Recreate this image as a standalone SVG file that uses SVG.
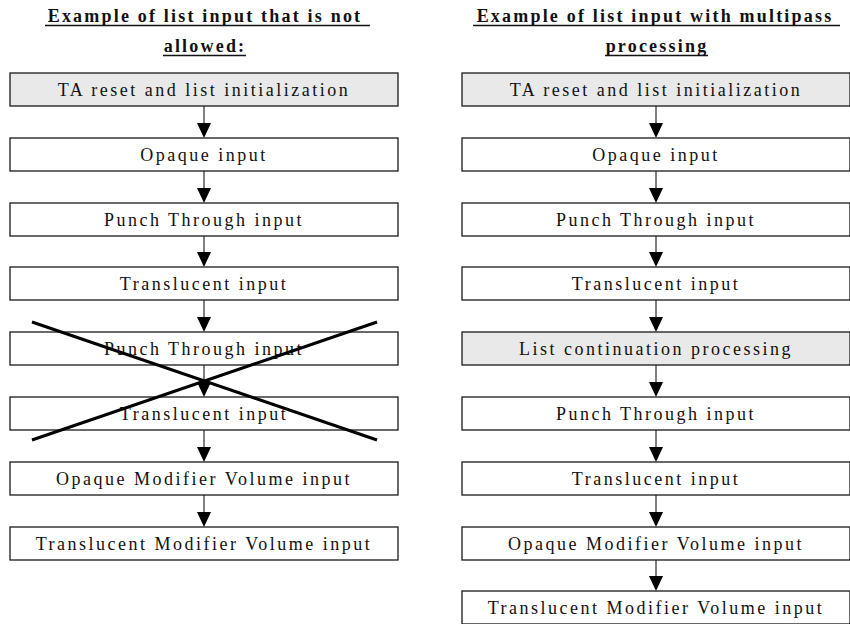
<svg xmlns="http://www.w3.org/2000/svg" width="850" height="624" viewBox="0 0 850 624">
<style>
.box{fill:#fff;stroke:#1a1a1a;stroke-width:1.3}
.gray{fill:#e9e9e9}
.lbl{font-family:"Liberation Serif","Times New Roman",serif;font-size:18px;letter-spacing:2.5px;text-anchor:middle;fill:#111}
.title{font-family:"Liberation Serif","Times New Roman",serif;font-size:18px;font-weight:bold;letter-spacing:2.2px;text-anchor:middle;fill:#111}
.ul{stroke:#111;stroke-width:1.3}
.conn{stroke:#000;stroke-width:1;fill:none}
.head{fill:#000}
.cross{stroke:#000;stroke-width:3;stroke-linecap:butt}
</style>
<g id="titles">
<text class="title" x="205" y="22">Example of list input that is not</text>
<line class="ul" x1="45" y1="25.5" x2="370" y2="25.5"/>
<text class="title" x="205" y="52">allowed:</text>
<line class="ul" x1="163" y1="55.5" x2="246" y2="55.5"/>
<text class="title" x="655" y="22">Example of list input with multipass</text>
<line class="ul" x1="473" y1="25.5" x2="840" y2="25.5"/>
<text class="title" x="657" y="52">processing</text>
<line class="ul" x1="605" y1="55.5" x2="708" y2="55.5"/>
</g>
<g id="connectors">
<g transform="translate(204,0)">
<path class="conn" d="M0,106 V123"/><path class="head" d="M-7,123 H7 L0,138 Z"/>
<path class="conn" d="M0,171 V188"/><path class="head" d="M-7,188 H7 L0,203 Z"/>
<path class="conn" d="M0,236 V252"/><path class="head" d="M-7,252 H7 L0,267 Z"/>
<path class="conn" d="M0,300 V317"/><path class="head" d="M-7,317 H7 L0,332 Z"/>
<path class="conn" d="M0,365 V382"/><path class="head" d="M-7,382 H7 L0,397 Z"/>
<path class="conn" d="M0,430 V447"/><path class="head" d="M-7,447 H7 L0,462 Z"/>
<path class="conn" d="M0,495 V512"/><path class="head" d="M-7,512 H7 L0,527 Z"/>
</g>
<g transform="translate(656,0)">
<path class="conn" d="M0,106 V123"/><path class="head" d="M-7,123 H7 L0,138 Z"/>
<path class="conn" d="M0,171 V188"/><path class="head" d="M-7,188 H7 L0,203 Z"/>
<path class="conn" d="M0,236 V252"/><path class="head" d="M-7,252 H7 L0,267 Z"/>
<path class="conn" d="M0,300 V317"/><path class="head" d="M-7,317 H7 L0,332 Z"/>
<path class="conn" d="M0,365 V382"/><path class="head" d="M-7,382 H7 L0,397 Z"/>
<path class="conn" d="M0,430 V447"/><path class="head" d="M-7,447 H7 L0,462 Z"/>
<path class="conn" d="M0,495 V512"/><path class="head" d="M-7,512 H7 L0,527 Z"/>
<path class="conn" d="M0,559 V576"/><path class="head" d="M-7,576 H7 L0,591 Z"/>
</g>
</g>
<g id="L1"><rect class="box gray" x="10" y="73" width="388" height="33"/><text class="lbl" x="204" y="96">TA reset and list initialization</text></g>
<g id="L2"><rect class="box" x="10" y="138" width="388" height="33"/><text class="lbl" x="204" y="161">Opaque input</text></g>
<g id="L3"><rect class="box" x="10" y="203" width="388" height="33"/><text class="lbl" x="204" y="226">Punch Through input</text></g>
<g id="L4"><rect class="box" x="10" y="267" width="388" height="33"/><text class="lbl" x="204" y="290">Translucent input</text></g>
<g id="L5"><rect class="box" x="10" y="332" width="388" height="33"/><text class="lbl" x="204" y="355">Punch Through input</text></g>
<g id="L6"><rect class="box" x="10" y="397" width="388" height="33"/><text class="lbl" x="204" y="420">Translucent input</text></g>
<g id="L7"><rect class="box" x="10" y="462" width="388" height="33"/><text class="lbl" x="204" y="485">Opaque Modifier Volume input</text></g>
<g id="L8"><rect class="box" x="10" y="527" width="388" height="33"/><text class="lbl" x="204" y="550">Translucent Modifier Volume input</text></g>
<g id="cross">
<line class="cross" x1="32" y1="322" x2="377" y2="440"/>
<line class="cross" x1="32" y1="440" x2="377" y2="322"/>
</g>
<g id="R1"><rect class="box gray" x="462" y="73" width="388" height="33"/><text class="lbl" x="656" y="96">TA reset and list initialization</text></g>
<g id="R2"><rect class="box" x="462" y="138" width="388" height="33"/><text class="lbl" x="656" y="161">Opaque input</text></g>
<g id="R3"><rect class="box" x="462" y="203" width="388" height="33"/><text class="lbl" x="656" y="226">Punch Through input</text></g>
<g id="R4"><rect class="box" x="462" y="267" width="388" height="33"/><text class="lbl" x="656" y="290">Translucent input</text></g>
<g id="R5"><rect class="box gray" x="462" y="332" width="388" height="33"/><text class="lbl" x="656" y="355">List continuation processing</text></g>
<g id="R6"><rect class="box" x="462" y="397" width="388" height="33"/><text class="lbl" x="656" y="420">Punch Through input</text></g>
<g id="R7"><rect class="box" x="462" y="462" width="388" height="33"/><text class="lbl" x="656" y="485">Translucent input</text></g>
<g id="R8"><rect class="box" x="462" y="527" width="388" height="33"/><text class="lbl" x="656" y="550">Opaque Modifier Volume input</text></g>
<g id="R9"><rect class="box" x="462" y="591" width="388" height="33"/><text class="lbl" x="656" y="614">Translucent Modifier Volume input</text></g>
</svg>
